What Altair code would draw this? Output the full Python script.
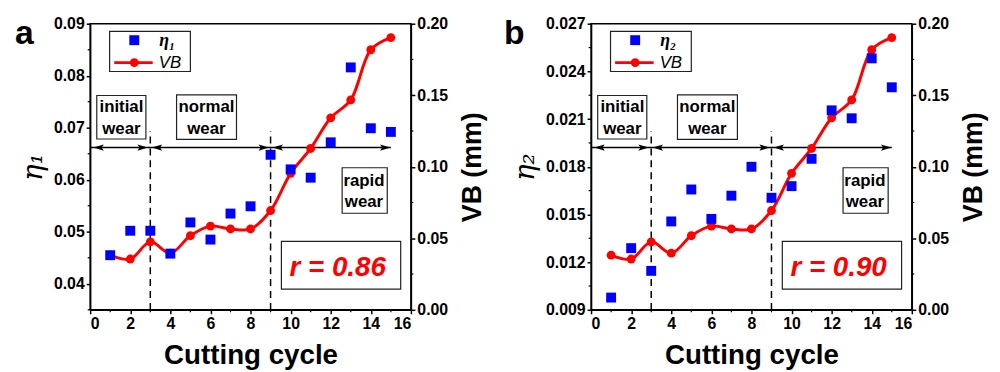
import altair as alt
import pandas as pd

# ---------------- data ----------------
cycles = list(range(1, 16))
eta1 = [0.0455, 0.0502, 0.0502, 0.0458, 0.0518, 0.0485, 0.0535, 0.0549,
        0.0648, 0.0620, 0.0604, 0.0672, 0.0816, 0.0699, 0.0692]
eta2 = [0.00977, 0.01288, 0.01145, 0.01456, 0.01657, 0.01472, 0.01618, 0.01800,
        0.01605, 0.01678, 0.01850, 0.02155, 0.02105, 0.02482, 0.02300]
vb = [0.0382, 0.0355, 0.0475, 0.0396, 0.0518, 0.0585, 0.0565, 0.0565,
      0.0694, 0.0954, 0.1128, 0.1342, 0.1467, 0.1818, 0.1903]

x_ticks = list(range(0, 17, 2))
x_minor = list(range(1, 16, 2))
eta1_ticks = [0.04, 0.05, 0.06, 0.07, 0.08, 0.09]
eta1_minor = [0.035, 0.045, 0.055, 0.065, 0.075, 0.085]
eta2_ticks = [0.009, 0.012, 0.015, 0.018, 0.021, 0.024, 0.027]
eta2_minor = [0.0105, 0.0135, 0.0165, 0.0195, 0.0225, 0.0255]
vb_ticks = [0.0, 0.05, 0.10, 0.15, 0.20]
vb_minor = [0.025, 0.075, 0.125, 0.175]

# stage annotations (cutting-cycle units / VB units)
stage_line1 = ["initial", "normal", "rapid"]
stage_line2 = ["wear", "wear", "wear"]
stage_x1 = [0.33, 4.31, 12.57]
stage_x2 = [2.78, 7.30, 14.82]
stage_y1 = [0.1194, 0.1191, 0.0675]
stage_y2 = [0.1498, 0.1502, 0.0993]
stage_xc = [1.56, 5.80, 13.66]
stage_yl1 = [0.1415, 0.1415, 0.0902]
stage_yl2 = [0.1266, 0.1266, 0.0756]

boundary_x = [3, 9]
boundary_top = 0.125
arrow_y = 0.1134
arrow_x_end = 15.0
arrow_left_x = [0.42, 3.33, 9.36]
arrow_right_x = [2.62, 8.66, 14.72]

FONT = "Liberation Sans"
RED = "#ff0000"
BLUE = "#0000ff"

W, H = 324, 289
MINOR = 2.5


def X(field):
    return alt.X(f"{field}:Q",
                 scale=alt.Scale(domain=[0, 16], nice=False, zero=False),
                 axis=alt.Axis(values=x_ticks, title="Cutting cycle", format="d"))


def VBY(field):
    return alt.Y(f"{field}:Q",
                 scale=alt.Scale(domain=[0, 0.2], nice=False, zero=False),
                 axis=alt.Axis(orient="right", values=vb_ticks, format=".2f",
                               title="VB (mm)", titleAngle=270, titleBaseline="top",
                               titlePadding=12, titleFontSize=27))


def panel(eta_vals, eta_domain, eta_ticks, eta_minor, eta_fmt, eta_title, leg_label,
          r_label, letter, letter_x):
    df = pd.DataFrame({"c": cycles, "eta": eta_vals, "vb": vb})

    def EY(field):
        return alt.Y(f"{field}:Q",
                     scale=alt.Scale(domain=eta_domain, nice=False, zero=False),
                     axis=alt.Axis(orient="left", values=eta_ticks, format=eta_fmt,
                                   title=eta_title, titleFont="DejaVu Serif",
                                   titleFontStyle="italic", titleFontWeight="normal",
                                   titleFontSize=28, titlePadding=6))

    line = alt.Chart(df).mark_line(color=RED, strokeWidth=3,
                                   interpolate="catmull-rom").encode(x=X("c"), y=VBY("vb"))
    pts = alt.Chart(df).mark_circle(color=RED, size=80, opacity=1).encode(
        x=X("c"), y=VBY("vb"))

    st = pd.DataFrame({"x1": stage_x1, "x2": stage_x2, "y1": stage_y1,
                       "y2": stage_y2, "xc": stage_xc, "ya": stage_yl1,
                       "yb": stage_yl2, "ta": stage_line1, "tb": stage_line2})
    boxes = alt.Chart(st).mark_rect(fill="white", fillOpacity=0, stroke="#222",
                                    strokeWidth=1.2).encode(
        x=X("x1"), x2="x2:Q", y=VBY("y1"), y2="y2:Q")
    txt_style = dict(font=FONT, fontSize=17, fontWeight="bold", align="center",
                     baseline="middle", color="black")
    box_txt1 = alt.Chart(st).mark_text(**txt_style).encode(
        x=X("xc"), y=VBY("ya"), text="ta:N")
    box_txt2 = alt.Chart(st).mark_text(**txt_style).encode(
        x=X("xc"), y=VBY("yb"), text="tb:N")

    bd = pd.DataFrame({"x": boundary_x, "y1": [0, 0], "y2": [boundary_top] * 2})
    dashes = alt.Chart(bd).mark_rule(color="black", strokeWidth=1.5,
                                     strokeDash=[7, 5]).encode(
        x=X("x"), y=VBY("y1"), y2="y2:Q")

    ar = pd.DataFrame({"x1": [0], "x2": [arrow_x_end], "y": [arrow_y]})
    arrow_line = alt.Chart(ar).mark_rule(color="black", strokeWidth=1.5).encode(
        x=X("x1"), x2="x2:Q", y=VBY("y"))
    al = pd.DataFrame({"x": arrow_left_x, "y": [arrow_y] * 3})
    arr_l = alt.Chart(al).mark_point(shape="M-1,0L1,-0.6L0.6,0L1,0.6Z", size=110,
                                     filled=True, color="black", opacity=1).encode(
        x=X("x"), y=VBY("y"))
    arx = pd.DataFrame({"x": arrow_right_x, "y": [arrow_y] * 3})
    arr_r = alt.Chart(arx).mark_point(shape="M1,0L-1,-0.6L-0.6,0L-1,0.6Z", size=110,
                                      filled=True, color="black", opacity=1).encode(
        x=X("x"), y=VBY("y"))

    rb = pd.DataFrame({"x1": [9.54], "x2": [15.49], "y1": [0.0145], "y2": [0.0479],
                       "xc": [12.35], "yc": [0.0295], "t": [r_label]})
    r_box = alt.Chart(rb).mark_rect(fill="white", fillOpacity=0, stroke="#222",
                                    strokeWidth=1.2).encode(
        x=X("x1"), x2="x2:Q", y=VBY("y1"), y2="y2:Q")
    r_txt = alt.Chart(rb).mark_text(font=FONT, fontSize=28, fontWeight="bold",
                                    fontStyle="italic", color=RED, align="center",
                                    baseline="middle").encode(
        x=X("xc"), y=VBY("yc"), text="t:N")

    lg = pd.DataFrame({"x1": [0.97], "x2": [5.0], "y1": [0.1666], "y2": [0.1947]})
    leg_box = alt.Chart(lg).mark_rect(fill="white", fillOpacity=0, stroke="#222",
                                      strokeWidth=1.2).encode(
        x=X("x1"), x2="x2:Q", y=VBY("y1"), y2="y2:Q")
    lsq = pd.DataFrame({"x": [2.2], "y": [0.1885]})
    leg_sq = alt.Chart(lsq).mark_square(size=100, color=BLUE, opacity=1).encode(
        x=X("x"), y=VBY("y"))
    lln = pd.DataFrame({"x1": [1.2], "x2": [3.12], "y": [0.1728]})
    leg_line = alt.Chart(lln).mark_rule(color=RED, strokeWidth=3).encode(
        x=X("x1"), x2="x2:Q", y=VBY("y"))
    lpt = pd.DataFrame({"x": [2.2], "y": [0.1728]})
    leg_pt = alt.Chart(lpt).mark_circle(size=80, color=RED, opacity=1).encode(
        x=X("x"), y=VBY("y"))
    lt1 = pd.DataFrame({"x": [3.45], "y": [0.1878], "t": [leg_label]})
    leg_t1 = alt.Chart(lt1).mark_text(font="Liberation Serif", fontSize=18,
                                      fontWeight="bold", fontStyle="italic",
                                      align="left", baseline="middle",
                                      color="black").encode(
        x=X("x"), y=VBY("y"), text="t:N")
    lt2 = pd.DataFrame({"x": [3.42], "y": [0.1728], "t": ["VB"]})
    leg_t2 = alt.Chart(lt2).mark_text(font=FONT, fontSize=17, fontStyle="italic",
                                      align="left", baseline="middle",
                                      color="black").encode(
        x=X("x"), y=VBY("y"), text="t:N")

    # minor ticks
    xm = pd.DataFrame({"x": x_minor})
    x_min_ticks = alt.Chart(xm).mark_rule(color="black", strokeWidth=1.2).encode(
        x=X("x"), y=alt.value(H), y2=alt.value(H + MINOR))
    vm = pd.DataFrame({"y": vb_minor})
    vb_min_ticks = alt.Chart(vm).mark_rule(color="black", strokeWidth=1.2).encode(
        y=VBY("y"), x=alt.value(W), x2=alt.value(W + MINOR))

    let = pd.DataFrame({"t": [letter]})
    letter_txt = alt.Chart(let).mark_text(font=FONT, fontSize=34, fontWeight="bold",
                                          align="left", baseline="alphabetic",
                                          color="black").encode(
        x=alt.value(letter_x), y=alt.value(20), text="t:N")

    vb_layer = alt.layer(dashes, arrow_line, arr_l, arr_r, boxes, box_txt1, box_txt2,
                         r_box, r_txt, line, pts, leg_box, leg_line, leg_pt, leg_sq,
                         leg_t1, leg_t2, x_min_ticks, vb_min_ticks, letter_txt)

    eta_sq = alt.Chart(df).mark_square(size=100, color=BLUE, opacity=1).encode(
        x=X("c"), y=EY("eta"))
    em = pd.DataFrame({"y": eta_minor})
    eta_min_ticks = alt.Chart(em).mark_rule(color="black", strokeWidth=1.2).encode(
        y=EY("y"), x=alt.value(-MINOR), x2=alt.value(0))
    eta_layer = alt.layer(eta_sq, eta_min_ticks)

    return alt.layer(vb_layer, eta_layer).resolve_scale(y="independent").properties(
        width=W, height=H)


pa = panel(eta1, [0.035, 0.09], eta1_ticks, eta1_minor, ".2f", "η₁", "η₁",
           "r = 0.86", "a", -76)
pb = panel(eta2, [0.009, 0.027], eta2_ticks, eta2_minor, ".3f", "η₂", "η₂",
           "r = 0.90", "b", -88)

chart = alt.hconcat(pa, pb, spacing=17).properties(
    padding={"left": 6, "top": 5, "right": 5, "bottom": 5}
).configure_axis(
    labelFont=FONT, labelFontSize=16, labelFontWeight="bold", labelColor="black",
    titleFont=FONT, titleFontSize=28, titleFontWeight="bold", titleColor="black",
    tickColor="black", tickWidth=1.5, tickSize=4, domainColor="black",
    domainWidth=1.5, grid=False, labelPadding=2
).configure_axisX(titlePadding=10).configure_view(stroke="black", strokeWidth=1.5)

chart.save("out.html", embed_options={"renderer": "svg", "actions": False})
